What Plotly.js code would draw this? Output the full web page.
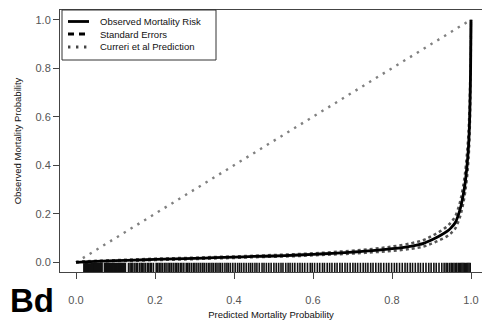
<!DOCTYPE html>
<html>
<head>
<meta charset="utf-8">
<script src="https://cdn.plot.ly/plotly-3.0.1.min.js"></script>
<style>
html,body{margin:0;padding:0;background:#fff;overflow:hidden;}
#chart{width:482px;height:323px;}
</style>
</head>
<body>
<div id="chart"></div>
<script>
// Predicted mortality probability grid for the fitted curve
const predicted = [0, 0.02, 0.05, 0.1, 0.15, 0.2, 0.25, 0.3, 0.35, 0.4, 0.45, 0.5, 0.55, 0.6, 0.65, 0.7, 0.75, 0.8, 0.85, 0.88, 0.9, 0.92, 0.94, 0.95, 0.96, 0.97, 0.975, 0.98, 0.985, 0.99, 0.993, 0.995, 0.997, 0.998, 0.999, 1.0];
const observedRisk = [0.000,0.002,0.004,0.007,0.009,0.012,0.014,0.016,0.019,0.021,0.024,0.026,0.029,0.033,0.037,0.042,0.048,0.056,0.067,0.078,0.092,0.108,0.128,0.143,0.163,0.205,0.235,0.275,0.325,0.400,0.460,0.520,0.620,0.700,0.800,1.000];
const seUpper = [0.001,0.004,0.006,0.009,0.012,0.015,0.017,0.019,0.022,0.024,0.027,0.030,0.033,0.037,0.042,0.048,0.055,0.065,0.079,0.092,0.108,0.126,0.149,0.166,0.189,0.235,0.268,0.312,0.367,0.450,0.515,0.580,0.680,0.750,0.840,1.000];
const seLower = [0.000,0.001,0.002,0.005,0.006,0.009,0.011,0.013,0.016,0.018,0.021,0.023,0.025,0.029,0.032,0.036,0.041,0.047,0.056,0.065,0.077,0.091,0.108,0.121,0.139,0.177,0.204,0.240,0.287,0.352,0.410,0.465,0.560,0.650,0.760,1.000];
// Curreri et al prediction (identity)
const curreriX = [0, 1];
const curreriY = [0, 1];
// Rug of individual predicted probabilities
const rugValues = [0.020,0.022,0.023,0.025,0.027,0.028,0.030,0.032,0.033,0.035,0.037,0.039,0.040,0.042,0.044,0.046,0.047,0.049,0.051,0.053,0.055,0.056,0.058,0.060,0.062,0.064,0.066,0.072,0.074,0.076,0.078,0.080,0.082,0.084,0.086,0.088,0.090,0.092,0.094,0.096,0.098,0.100,0.102,0.104,0.106,0.108,0.110,0.112,0.114,0.116,0.118,0.120,0.122,0.125,
0.133,0.137,0.141,0.144,0.149,0.153,0.156,0.161,0.165,0.168,0.172,0.176,0.181,0.184,0.188,0.191,0.196,0.203,0.207,0.211,0.215,0.219,0.224,0.228,0.233,0.237,0.241,0.246,0.251,0.255,0.259,0.264,0.268,0.273,0.279,0.283,0.287,0.292,0.297,0.301,0.306,0.311,0.316,0.321,0.325,0.330,0.335,0.339,0.344,0.348,0.353,0.357,0.362,0.366,0.371,0.377,0.382,0.386,0.391,0.397,0.403,0.409,0.414,0.419,0.425,0.431,0.437,0.442,0.447,0.453,0.458,0.464,0.471,0.476,0.482,0.488,0.494,0.501,0.507,0.513,0.519,0.524,0.531,0.537,0.542,0.548,0.554,0.561,0.567,0.573,0.579,0.586,0.593,0.598,0.604,0.611,0.617,0.624,0.629,0.636,0.642,0.648,0.655,0.661,0.668,0.674,0.681,0.687,0.694,0.701,0.707,0.713,0.720,0.727,0.733,0.739,0.746,0.752,0.759,0.766,0.772,0.779,0.786,0.792,0.799,0.806,0.812,0.819,0.826,0.833,0.839,0.846,0.852,0.859,0.866,0.872,0.879,0.886,0.893,0.899,0.906,0.912,0.919,0.926,0.932,0.937,0.941,0.946,0.950,0.953,0.957,0.961,0.964,0.968,0.971,0.974,0.977,0.980,0.983,0.986,0.989,0.992,0.995,0.998];
const rugBase = [-0.04, -0.002];
const xTicks = [0, 0.2, 0.4, 0.6, 0.8, 1.0];
const xTickText = ["0.0","0.2","0.4","0.6","0.8","1.0"];
const yTicks = [0, 0.2, 0.4, 0.6, 0.8, 1.0];
const yTickText = ["0.0","0.2","0.4","0.6","0.8","1.0"];
const legendLabels = ["Observed Mortality Risk","Standard Errors","Curreri et al Prediction"];

const rugX = [], rugY = [];
rugValues.forEach(v => { rugX.push(v, v, null); rugY.push(rugBase[0], rugBase[1], null); });

const FONT = "Liberation Sans, Arial, Helvetica, sans-serif";

const traces = [
  {x: rugX, y: rugY, mode: 'lines', line: {color: '#111', width: 1.6}, hoverinfo: 'skip', showlegend: false},
  {x: curreriX, y: curreriY, mode: 'lines', line: {color: '#808080', width: 2.4, dash: '2.4px,5.6px'}, showlegend: false},
  {x: predicted, y: seUpper, mode: 'lines', line: {color: '#555', width: 2.5, dash: '3px,3px', shape: 'spline'}, showlegend: false},
  {x: predicted, y: seLower, mode: 'lines', line: {color: '#555', width: 2.5, dash: '3px,3px', shape: 'spline'}, showlegend: false},
  {x: predicted, y: observedRisk, mode: 'lines', line: {color: '#000', width: 2.8, shape: 'spline'}, showlegend: false}
];

// legend geometry in paper coords
const L = 60, T = 10, W = 422, H = 262;
const px = v => (v - L) / W;
const py = v => (T + H - v) / H;
const rows = [21.5, 34, 47];
const dashes = ['solid', '6px,5px', '2.4px,5.6px'];
const shapes = [
  {type: 'rect', xref: 'paper', yref: 'paper', x0: px(62), x1: px(216), y0: py(60), y1: py(10), line: {color: '#333', width: 1}, fillcolor: 'rgba(255,255,255,1)', layer: 'above'}
];
const annotations = [];
rows.forEach((r, i) => {
  shapes.push({type: 'line', xref: 'paper', yref: 'paper', x0: px(68), x1: px(89), y0: py(r), y1: py(r), line: {color: i === 2 ? '#444' : '#000', width: 2.8, dash: dashes[i]}, layer: 'above'});
  annotations.push({xref: 'paper', yref: 'paper', x: px(98), y: py(r), xanchor: 'left', yanchor: 'middle', text: legendLabels[i], showarrow: false, font: {family: FONT, size: 9.5, color: '#111'}});
});
annotations.push({xref: 'paper', yref: 'paper', x: px(8), y: py(300), xanchor: 'left', yanchor: 'middle', text: '<b>Bd</b>', showarrow: false, font: {family: FONT, size: 33, color: '#000'}});

const layout = {
  width: 482, height: 323,
  margin: {l: L, r: 0, t: T, b: 323 - T - H, pad: 0},
  paper_bgcolor: '#fff', plot_bgcolor: '#fff',
  showlegend: false,
  xaxis: {
    range: [-16/395, 406/395], tickvals: xTicks, ticktext: xTickText,
    showgrid: false, zeroline: false, showline: true, mirror: true, linecolor: '#444', linewidth: 1,
    ticks: 'outside', ticklen: 6, tickcolor: '#444', tickwidth: 1, ticklabelstandoff: 12,
    tickfont: {family: FONT, size: 11, color: '#555'},
    title: {text: 'Predicted Mortality Probability', font: {family: FONT, size: 9.5, color: '#111'}, standoff: 6}
  },
  yaxis: {
    range: [-0.04, 1.04], tickvals: yTicks, ticktext: yTickText,
    showgrid: false, zeroline: false, showline: true, mirror: false, linecolor: '#444', linewidth: 1,
    ticks: 'outside', ticklen: 6, tickcolor: '#444', tickwidth: 1,
    tickfont: {family: FONT, size: 11, color: '#555'},
    title: {text: 'Observed Mortality Probability', font: {family: FONT, size: 9.5, color: '#111'}, standoff: 12}
  },
  shapes: shapes,
  annotations: annotations
};

Plotly.newPlot('chart', traces, layout, {staticPlot: true, displayModeBar: false});
</script>
</body>
</html>
